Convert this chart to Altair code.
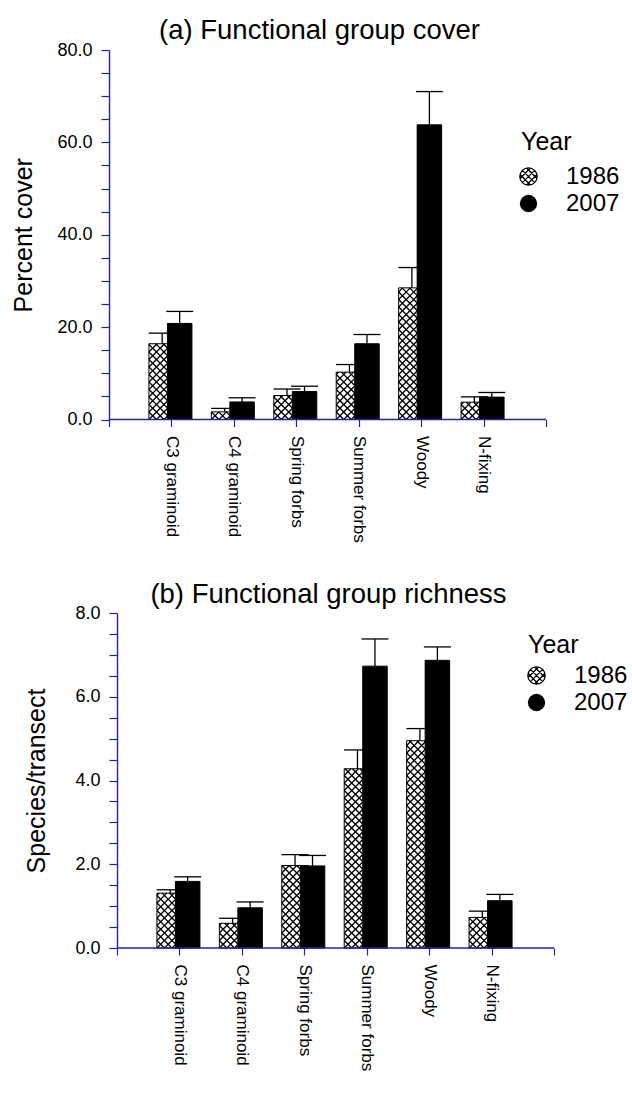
import json
import numpy as np
import pandas as pd
import altair as alt

# Functional groups and survey years
categories = ["C3 graminoid", "C4 graminoid", "Spring forbs", "Summer forbs", "Woody", "N-fixing"]
years = ["1986", "2007"]

# (a) percent cover: means and standard errors
cover_1986 = [16.4, 1.65, 5.2, 10.25, 28.5, 3.75]
cover_1986_se = [2.3, 0.75, 1.4, 1.65, 4.4, 1.15]
cover_2007 = [20.8, 3.8, 6.05, 16.4, 63.8, 4.85]
cover_2007_se = [2.6, 0.9, 1.15, 2.0, 7.2, 1.0]

# (b) species richness per transect: means and standard errors
rich_1986 = [1.31, 0.59, 1.97, 4.28, 4.95, 0.73]
rich_1986_se = [0.08, 0.12, 0.26, 0.45, 0.29, 0.15]
rich_2007 = [1.59, 0.96, 1.96, 6.73, 6.87, 1.13]
rich_2007_se = [0.11, 0.14, 0.25, 0.65, 0.32, 0.15]

FONT = "Liberation Sans"
NAVY = "#23239b"
PLOT_W = 445

# bar geometry around each category tick, in pixels
HATCH_L, HATCH_R = -22.5, 4.0
SOLID_L, SOLID_R = -4.0, 20.5
CAP_HALF = 13.5
HATCH_GAP = 7.5


def hatch_segments(x0, x1, top, px_x, px_y):
    """Cross-hatch lines (both diagonals) clipped to a bar rectangle."""
    w = (x1 - x0) * px_x
    h = top * px_y
    segs = []
    for c in np.arange(-np.ceil(h / HATCH_GAP) * HATCH_GAP, w + HATCH_GAP, HATCH_GAP):
        lo, hi = max(0.0, -c), min(h, w - c)
        if hi > lo:
            segs.append((lo + c, lo, hi + c, hi))
    for c in np.arange(0, w + h + HATCH_GAP, HATCH_GAP):
        lo, hi = max(0.0, c - w), min(h, c)
        if hi > lo:
            segs.append((c - lo, lo, c - hi, hi))
    return [
        {"hx": x0 + a / px_x, "hy": b / px_y, "hx2": x0 + c / px_x, "hy2": d / px_y}
        for a, b, c, d in segs
    ]


def hatched_circle_path():
    parts = ["M1,0A1,1,0,1,1,-1,0A1,1,0,1,1,1,0Z"]
    for c in (-0.75, 0.0, 0.75):
        r = np.sqrt(2 - c * c)
        xa, xb = (c - r) / 2, (c + r) / 2
        parts.append(f"M{xa:.3f},{xa - c:.3f}L{xb:.3f},{xb - c:.3f}")
        parts.append(f"M{xa:.3f},{c - xa:.3f}L{xb:.3f},{c - xb:.3f}")
    return "".join(parts)


def panel(m_a, se_a, m_b, se_b, ymax, minor, major, height, ytitle, title,
          x_lo, x_hi, axis_offset, title_dx, title_offset, legend):
    n = len(categories)
    px_x = PLOT_W / (x_hi - x_lo)
    px_y = height / ymax

    rows, hatch = [], []
    for i, cat in enumerate(categories):
        pos = i + 1
        for yr, m, se, (l, r) in ((years[0], m_a[i], se_a[i], (HATCH_L, HATCH_R)),
                                   (years[1], m_b[i], se_b[i], (SOLID_L, SOLID_R))):
            x0, x1 = pos + l / px_x, pos + r / px_x
            ctr = (x0 + x1) / 2
            rows.append({"cat": cat, "year": yr, "x0": x0, "x1": x1, "ctr": ctr,
                         "cl": ctr - CAP_HALF / px_x, "cr": ctr + CAP_HALF / px_x,
                         "mean": m, "upper": m + se, "zero": 0.0})
            if yr == years[0]:
                hatch += hatch_segments(x0, x1, m, px_x, px_y)
    df = pd.DataFrame(rows)
    hdf = pd.DataFrame(hatch)
    base_df = pd.DataFrame({"a": [0.0], "b": [float(n + 1)], "z": [0.0]})

    xscale = alt.Scale(domain=[x_lo, x_hi], nice=False, zero=False)
    yscale = alt.Scale(domain=[0, ymax], nice=False, zero=False)
    label_list = json.dumps([""] + categories + [""])
    xaxis = alt.Axis(values=list(range(0, n + 2)), labelExpr=f"{label_list}[datum.value]",
                     domain=False, grid=False, tickSize=7, tickColor=NAVY, tickWidth=1.2,
                     labelAngle=90, labelAlign="left", labelBaseline="middle",
                     labelPadding=9, labelFont=FONT, labelFontSize=17, labelColor="black",
                     labelOverlap=False, labelFlush=False, title=None)
    yaxis = alt.Axis(values=[float(v) for v in np.arange(0, ymax + minor / 2, minor)],
                     labelExpr=f"datum.value % {major} === 0 ? format(datum.value, '.1f') : ''",
                     grid=False, tickSize=8, tickColor=NAVY, tickWidth=1.2,
                     domainColor=NAVY, domainWidth=1.4, offset=axis_offset,
                     labelFont=FONT, labelFontSize=18, labelColor="black", labelPadding=9,
                     labelOverlap=False, labelFlush=False,
                     title=ytitle, titleFont=FONT, titleFontSize=25, titleFontWeight="normal",
                     titleColor="black", titlePadding=legend["title_pad"])

    def X(f):
        return alt.X(f, type="quantitative", scale=xscale, axis=xaxis)

    def Y(f):
        return alt.Y(f, type="quantitative", scale=yscale, axis=yaxis)

    old = alt.Chart(df).transform_filter(alt.datum.year == years[0])
    new = alt.Chart(df).transform_filter(alt.datum.year == years[1])

    old_bar = old.mark_rect(fill="white", stroke="black", strokeWidth=1).encode(
        x=X("x0"), x2="x1", y=Y("mean"), y2="zero")
    old_hatch = alt.Chart(hdf).mark_rule(color="black", strokeWidth=1.3).encode(
        x=X("hx"), x2="hx2", y=Y("hy"), y2="hy2")
    new_bar = new.mark_rect(fill="black", stroke="black", strokeWidth=1).encode(
        x=X("x0"), x2="x1", y=Y("mean"), y2="zero")
    stems = alt.Chart(df).mark_rule(color="black", strokeWidth=1.3).encode(
        x=X("ctr"), y=Y("mean"), y2="upper")
    caps = alt.Chart(df).mark_rule(color="black", strokeWidth=1.3).encode(
        x=X("cl"), x2="cr", y=Y("upper"))
    baseline = alt.Chart(base_df).mark_rule(color=NAVY, strokeWidth=1.4).encode(
        x=X("a"), x2="b", y=Y("z"))

    lx, ly, sx, s1, s2, tx = (legend[k] for k in ("lx", "ly", "sx", "s1", "s2", "tx"))
    text_style = dict(align="left", baseline="middle", font=FONT, fontSize=24, color="black")
    leg_title = alt.Chart(pd.DataFrame({"t": ["Year"]})).mark_text(
        **{**text_style, "fontSize": 25}).encode(text="t:N", x=alt.value(lx), y=alt.value(ly))
    sym_old = alt.Chart(pd.DataFrame({"t": [years[0]]})).mark_point(
        shape=hatched_circle_path(), size=300, fill="white", fillOpacity=1,
        stroke="black", strokeWidth=1.3, opacity=1).encode(x=alt.value(sx), y=alt.value(s1))
    sym_new = alt.Chart(pd.DataFrame({"t": [years[1]]})).mark_point(
        shape="circle", size=300, filled=True, color="black", opacity=1).encode(
        x=alt.value(sx), y=alt.value(s2))
    lab_old = alt.Chart(pd.DataFrame({"t": [years[0]]})).mark_text(**text_style).encode(
        text="t:N", x=alt.value(tx), y=alt.value(s1))
    lab_new = alt.Chart(pd.DataFrame({"t": [years[1]]})).mark_text(**text_style).encode(
        text="t:N", x=alt.value(tx), y=alt.value(s2))

    return alt.layer(old_bar, old_hatch, new_bar, stems, caps, baseline,
                     leg_title, sym_old, sym_new, lab_old, lab_new).properties(
        width=PLOT_W, height=height,
        title=alt.TitleParams(title, font=FONT, fontSize=27.5, fontWeight="normal",
                              color="black", anchor="middle", frame="group",
                              dx=title_dx, offset=title_offset))


step_px = 62.43
top = panel(cover_1986, cover_1986_se, cover_2007, cover_2007_se,
            80, 5, 20, 369.5, "Percent cover", "(a) Functional group cover",
            0.0, 7 + 8 / step_px, 0, -12, -3,
            {"lx": 412, "ly": 92, "sx": 419.5, "s1": 126.5, "s2": 153.5, "tx": 457,
             "title_pad": 20})
bottom = panel(rich_1986, rich_1986_se, rich_2007, rich_2007_se,
               8, 0.5, 2, 335, "Species/transect", "(b) Functional group richness",
               -8 / step_px, 7.0, -8, -3, -4,
               {"lx": 419, "ly": 32, "sx": 427.5, "s1": 62.5, "s2": 89.5, "tx": 465,
                "title_pad": 25})

chart = alt.vconcat(top, bottom, spacing=37).properties(
    padding={"left": 11, "top": 16, "right": 0, "bottom": 0},
    background="white",
).configure_view(stroke=None)

chart.save("out.html", embed_options={"renderer": "svg", "actions": False})
